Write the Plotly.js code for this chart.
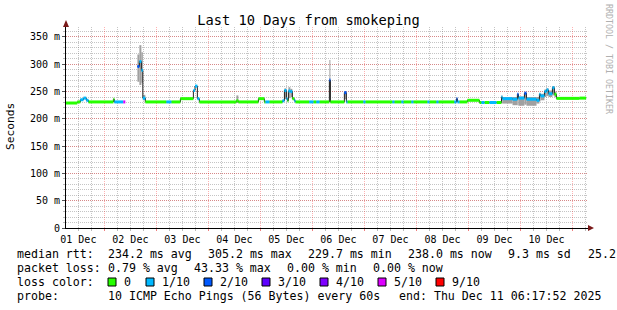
<!DOCTYPE html>
<html><head><meta charset="utf-8">
<script src="https://cdn.plot.ly/plotly-3.0.1.min.js"></script>
<style>html,body{margin:0;padding:0;background:#fff}#chart{width:617px;height:310px}</style>
</head><body><div id="chart"></div>
<script>
// ---- data ----
const times = [
'2025-12-01 06:18','2025-12-01 11:30','2025-12-01 12:55','2025-12-01 14:20','2025-12-01 15:40','2025-12-01 16:40',
'2025-12-02 04:10','2025-12-02 04:37','2025-12-02 08:45','2025-12-02 09:40',
'2025-12-02 15:15','2025-12-02 16:10','2025-12-02 17:05','2025-12-02 17:45','2025-12-02 18:55',
'2025-12-03 04:37','2025-12-03 06:55','2025-12-03 11:05','2025-12-03 17:05','2025-12-03 17:50','2025-12-03 18:55','2025-12-03 19:50',
'2025-12-04 12:55','2025-12-04 13:50','2025-12-04 23:05',
'2025-12-05 01:50','2025-12-05 02:20','2025-12-05 04:10','2025-12-05 10:10','2025-12-05 11:05','2025-12-05 12:00','2025-12-05 12:30','2025-12-05 12:55','2025-12-05 13:50','2025-12-05 14:45','2025-12-05 15:40','2025-12-05 16:10','2025-12-05 22:35',
'2025-12-06 00:28','2025-12-06 01:50','2025-12-06 03:15','2025-12-06 07:50','2025-12-06 08:18','2025-12-06 14:45','2025-12-06 15:40','2025-12-06 16:10','2025-12-06 23:30',
'2025-12-07 00:28','2025-12-07 12:55','2025-12-07 13:50','2025-12-07 17:05','2025-12-07 18:00','2025-12-07 21:40','2025-12-07 22:35',
'2025-12-08 05:05','2025-12-08 06:00','2025-12-08 09:15','2025-12-08 10:10','2025-12-08 17:30','2025-12-08 18:30','2025-12-08 18:55','2025-12-08 19:50','2025-12-08 23:30',
'2025-12-09 05:05','2025-12-09 06:00','2025-12-09 07:25','2025-12-09 09:40','2025-12-09 12:55','2025-12-09 15:15','2025-12-09 15:40','2025-12-09 20:20','2025-12-09 22:35','2025-12-09 23:05',
'2025-12-10 01:50','2025-12-10 02:45','2025-12-10 07:25','2025-12-10 08:45','2025-12-10 09:15','2025-12-10 11:05','2025-12-10 12:00','2025-12-10 12:55','2025-12-10 14:45','2025-12-10 15:40','2025-12-10 16:35',
'2025-12-11 03:15'
];
const endTime = '2025-12-11 06:18';
const medianMs = [
229,231,235,238,234,231,
236,231,231,null,
296,305,289,238,231,
231,231,237,252,260,237,231,
233,231,237,
231,231,231,233,252,237,233,251,250,237,233,231,231,
231,231,231,271,231,248,231,231,231,
231,231,231,231,231,231,231,
231,231,231,231,231,237,231,231,234,
230,230,230,230,230,240,237,236,245,238,
247,236,234,245,242,250,253,246,257,245,237.5,
238];
const lossCount = [
0,0,1,1,1,0,
0,1,5,0,
2,1,1,1,0,
1,0,0,1,1,1,0,
0,0,0,
0,1,0,1,1,1,0,1,1,0,1,0,1,
0,1,0,2,0,2,1,0,1,
0,1,0,1,0,1,0,
1,0,1,0,1,2,1,0,0,
0,1,0,1,0,1,1,1,2,1,
2,1,1,1,1,1,1,1,1,0,0,
0];
const smokeLo = [
null,null,null,null,null,null,
null,null,null,null,
268,262,266,234,null,
null,null,null,null,null,null,null,
229,null,null,
null,null,null,null,236,null,null,238,240,null,null,null,null,
null,null,null,240,null,236,null,null,null,
null,null,null,null,null,null,null,
null,null,null,null,null,null,null,null,null,
null,null,null,null,null,228,228,225,225,224,
226,224,228,232,234,240,242,240,243,240,null,
null];
const smokeHi = [
null,null,null,null,null,null,
null,null,null,null,
318,335,322,244,null,
null,null,null,null,null,null,null,
243,null,null,
null,null,null,null,256,null,null,258,255,null,null,null,null,
null,null,null,308,null,251,null,null,null,
null,null,null,null,null,null,null,
null,null,null,null,null,null,null,null,null,
null,null,null,null,null,243,240,240,247,241,
249,240,240,247,246,254,256,252,260,250,null,
null];

const yTickVals = [0,50,100,150,200,250,300,350];
const yTickText = ['0','50 m','100 m','150 m','200 m','250 m','300 m','350 m'];
const lossLevels = [0,1,2,3,4,5,9];
const lossLabels = ['0','1/10','2/10','3/10','4/10','5/10','9/10'];
const lossColors = ['#26ff00','#00b8ff','#0059ff','#5e00ff','#7e00ff','#dd00ff','#ff0000'];

const titleText = 'Last 10 Days from smokeping';
const rttLine = [['median rtt:',16],['234.2 ms avg',107],['305.2 ms max',207],['229.7 ms min',307],['238.0 ms now',407],['9.3 ms sd',507],['25.2',587]];
const lossLine = [['packet loss:',16],['0.79 % avg',107],['43.33 % max',193],['0.00 % min',286],['0.00 % now',372]];
const probeLine = [['probe:',16],['10 ICMP Echo Pings (56 Bytes) every 60s',107],['end: Thu Dec 11 06:17:52 2025',398]];

// ---- build ----
const FONT = 'DejaVu Sans Mono';
const PL = 66, PR = 588, PT = 27, PB = 228, W = 617, H = 310;
const px = v => (v - PL) / (PR - PL);
const py = v => (PB - v) / (PB - PT);
const toMs = s => Date.parse(s.replace(' ', 'T') + ':00Z');
const fmt = ms => new Date(ms).toISOString().slice(0, 19).replace('T', ' ');
const n = times.length;
const nextT = i => (i + 1 < n ? times[i + 1] : endTime);

const traces = [];
// smoke
const bx = [], bw = [], bb = [], bh = [];
for (let i = 0; i < n; i++) {
  if (smokeLo[i] == null) continue;
  const t0 = toMs(times[i]), t1 = toMs(nextT(i));
  bx.push(fmt((t0 + t1) / 2)); bw.push(t1 - t0); bb.push(smokeLo[i]); bh.push(smokeHi[i] - smokeLo[i]);
}
traces.push({type: 'bar', x: bx, y: bh, base: bb, width: bw, marker: {color: '#a0a0a0', line: {width: 0}}, hoverinfo: 'skip'});
// median connector
traces.push({type: 'scatter', mode: 'lines', x: times.concat([endTime]), y: medianMs.concat([medianMs[n - 1]]),
  line: {shape: 'hv', color: '#202020', width: 1}, connectgaps: false, hoverinfo: 'skip'});
// loss-coloured median band
lossLevels.forEach((lv, k) => {
  const xs = [], ys = [];
  for (let i = 0; i < n; i++) {
    if (medianMs[i] == null || lossCount[i] !== lv) continue;
    xs.push(times[i], nextT(i), null); ys.push(medianMs[i], medianMs[i], null);
  }
  if (xs.length) traces.push({type: 'scatter', mode: 'lines', x: xs, y: ys, line: {color: lossColors[k], width: 3}, hoverinfo: 'skip'});
});

const annotations = [];
const addText = (t, x, y, extra) => annotations.push(Object.assign({text: t, x: px(x), y: py(y), xref: 'paper', yref: 'paper',
  xanchor: 'left', yanchor: 'middle', showarrow: false, borderpad: 0, font: {family: FONT, size: 11.6, color: '#000'}}, extra || {}));
rttLine.forEach(([t, x]) => addText(t, x, 254));
lossLine.forEach(([t, x]) => addText(t, x, 268));
addText('loss color:', 16, 282);
probeLine.forEach(([t, x]) => addText(t, x, 296));

const shapes = [];
lossLabels.forEach((lab, k) => {
  const sx = 108 + (k === 0 ? 0 : 38 + 58 * (k - 1));
  shapes.push({type: 'rect', xref: 'paper', yref: 'paper', x0: px(sx), x1: px(sx + 8), y0: py(286), y1: py(278),
    fillcolor: lossColors[k], line: {color: '#000', width: 1}});
  addText(lab, sx + 15, 282);
});
// axis arrows
shapes.push({type: 'path', xref: 'paper', yref: 'paper', fillcolor: '#7a1a1a', line: {width: 0},
  path: `M ${px(63)},${py(PT)} L ${px(69)},${py(PT)} L ${px(66)},${py(20)} Z`});
shapes.push({type: 'path', xref: 'paper', yref: 'paper', fillcolor: '#7a1a1a', line: {width: 0},
  path: `M ${px(PR)},${py(225)} L ${px(PR)},${py(231)} L ${px(594)},${py(228)} Z`});

annotations.push({text: 'Seconds', x: px(11), y: py(127), xref: 'paper', yref: 'paper', xanchor: 'center', yanchor: 'middle',
  textangle: -90, showarrow: false, font: {family: FONT, size: 11.2, color: '#000'}});
annotations.push({text: 'RRDTOOL / TOBI OETIKER', x: px(609), y: py(59), xref: 'paper', yref: 'paper', xanchor: 'center', yanchor: 'middle',
  textangle: 90, showarrow: false, font: {family: FONT, size: 8.3, color: '#b0b0b0'}});

const MAJ = 'rgba(255,0,0,0.3)', MIN = 'rgba(110,110,110,0.4)';
const layout = {
  width: W, height: H, margin: {l: PL, r: W - PR, t: PT, b: H - PB, pad: 0},
  paper_bgcolor: '#fff', plot_bgcolor: '#fff', showlegend: false, hovermode: false, barmode: 'overlay',
  title: {text: titleText, x: 0.5, xref: 'container', xanchor: 'center', y: 1 - 20 / H, yref: 'container', yanchor: 'middle',
    font: {family: FONT, size: 13.7, color: '#000'}},
  xaxis: {type: 'date', range: ['2025-12-01 06:18', '2025-12-11 07:10'], dtick: 86400000, tick0: '2025-12-01',
    tickformat: '%d %b', ticklabelmode: 'period', showgrid: true, gridcolor: MAJ, griddash: '1px,1px', gridwidth: 1,
    minor: {dtick: 21600000, tick0: '2025-12-01', showgrid: true, gridcolor: MIN, griddash: '1px,1px', ticks: 'outside', ticklen: 2, tickcolor: '#bbb'},
    showline: true, linecolor: '#000', linewidth: 1, ticks: 'outside', ticklen: 2, tickcolor: '#f08080', zeroline: false,
    tickfont: {family: FONT, size: 10, color: '#000'}, fixedrange: true},
  yaxis: {range: [0, 368.3], tickmode: 'array', tickvals: yTickVals, ticktext: yTickText, showgrid: true, gridcolor: MAJ,
    griddash: '1px,1px', gridwidth: 1,
    minor: {dtick: 10, tick0: 0, showgrid: true, gridcolor: MIN, griddash: '1px,1px', ticks: 'outside', ticklen: 2, tickcolor: '#bbb'},
    showline: true, linecolor: '#000', linewidth: 1, ticks: 'outside', ticklen: 3, tickcolor: '#555', zeroline: false,
    tickfont: {family: FONT, size: 10, color: '#000'}, fixedrange: true},
  shapes: shapes, annotations: annotations
};
Plotly.newPlot('chart', traces, layout, {staticPlot: true, displayModeBar: false});
</script></body></html>
